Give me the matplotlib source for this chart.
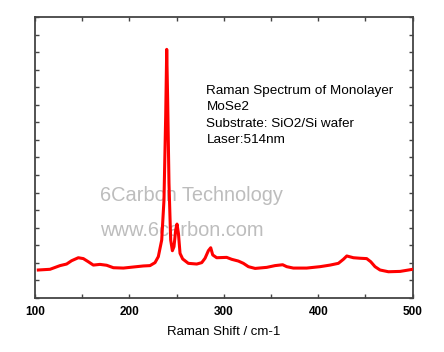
import matplotlib
matplotlib.use("Agg")
import matplotlib.pyplot as plt
from matplotlib.ticker import MultipleLocator

# spectrum (arbitrary intensity units, axis 0..16)
shift = [103.5, 115.9, 126.5, 133.5, 138.8, 145.9, 151.2, 156.5, 161.8, 168.8,
         175.9, 183.0, 193.6, 204.1, 214.7, 221.8, 227.1, 230.6, 234.2, 236.6,
         238.4, 239.5, 240.5, 241.9, 243.7, 245.5, 247.2, 249.0, 250.4, 251.9,
         253.6, 256.4, 262.4, 271.3, 276.6, 280.1, 283.6, 286.1, 288.2, 292.4,
         303.0, 308.3, 315.4, 320.7, 326.0, 333.1, 345.4, 354.2, 362.3, 366.6,
         373.6, 387.7, 401.9, 412.5, 421.3, 426.6, 430.2, 437.2, 444.3, 451.3,
         455.6, 460.1, 465.4, 474.3, 486.7, 500.0]
intensity = [1.58, 1.62, 1.83, 1.92, 2.11, 2.28, 2.23, 2.05, 1.86, 1.90,
             1.85, 1.71, 1.69, 1.75, 1.81, 1.83, 2.00, 2.34, 3.29, 5.57,
             10.33, 14.17, 11.28, 6.53, 3.29, 2.68, 2.91, 3.86, 4.20, 3.67,
             2.53, 2.21, 1.96, 1.92, 2.00, 2.25, 2.68, 2.85, 2.44, 2.28,
             2.30, 2.19, 2.09, 1.96, 1.77, 1.67, 1.73, 1.83, 1.88, 1.77,
             1.69, 1.69, 1.77, 1.86, 1.96, 2.19, 2.38, 2.28, 2.25, 2.23,
             2.05, 1.77, 1.58, 1.48, 1.50, 1.62]

info = ["Raman Spectrum of Monolayer", "MoSe2", "Substrate: SiO2/Si wafer", "Laser:514nm"]

plt.rcParams['font.family'] = ['Liberation Sans', 'DejaVu Sans']

fig = plt.figure(figsize=(4.44, 3.52), dpi=100)
ax = fig.add_axes([0.0788, 0.1543, 0.8507, 0.7966])

ax.plot(shift, intensity, color='#ff0000', lw=2.2, zorder=3)

ax.set_xlim(100, 500)
ax.set_ylim(0, 16)
ax.xaxis.set_major_locator(MultipleLocator(100))
ax.xaxis.set_minor_locator(MultipleLocator(50))
ax.yaxis.set_major_locator(MultipleLocator(1))
ax.tick_params(axis='both', which='both', direction='in', top=True, right=True,
               color='#444444', width=1, length=3)
ax.tick_params(axis='y', labelleft=False)
ax.tick_params(axis='x', labelsize=8.5, pad=6, colors='#444444', labelcolor='black')
for lbl in ax.get_xticklabels():
    lbl.set_fontweight('bold')
for sp in ax.spines.values():
    sp.set_color('#444444')
    sp.set_linewidth(1.3)

ax.set_xlabel("Raman Shift / cm-1", fontsize=9.5, labelpad=6)

for i, line in enumerate(info):
    ax.text(0.454, 0.738 - i * 0.0585, line, transform=ax.transAxes,
            fontsize=9.7, va='center', ha='left')

ax.text(0.171, 0.366, "6Carbon Technology", transform=ax.transAxes,
        fontsize=14.4, color='#bdbdbd', va='center', ha='left', zorder=2)
ax.text(0.171, 0.240, "www.6carbon.com", transform=ax.transAxes,
        fontsize=14.4, color='#bdbdbd', va='center', ha='left', zorder=2)

fig.savefig("out.png", dpi=100)
